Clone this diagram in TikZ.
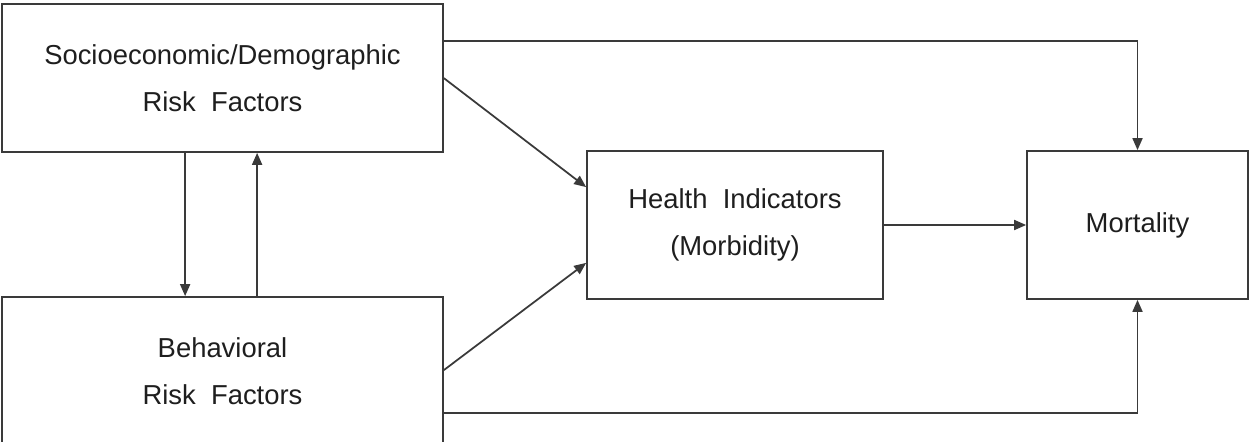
\documentclass[tikz,border=0pt]{standalone}
\usepackage{fontspec}
\setmainfont{Liberation Sans}
\usetikzlibrary{arrows.meta}

\definecolor{linegray}{HTML}{3A3A3A}
\definecolor{textgray}{HTML}{1E1E1E}

\tikzset{
  factorbox/.style={draw=linegray, line width=1pt, inner sep=0pt,
    minimum height=2.96cm, align=center, text=textgray,
    font=\fontsize{15.6}{26.7}\selectfont},
  link/.style={draw=linegray, line width=1pt,
    -{Triangle[length=0.24cm,width=0.2cm]}}
}

\begin{document}
\begin{tikzpicture}[x=0.02cm,y=-0.02cm]
  \useasboundingbox (0,0) rectangle (1250,442);

  \node[factorbox, minimum width=8.82cm] (socio) at (222.5,78)
    {Socioeconomic/Demographic\\Risk\ \ Factors};
  \node[factorbox, minimum width=8.82cm] (behav) at (222.5,371)
    {Behavioral\\Risk\ \ Factors};
  \node[factorbox, minimum width=5.92cm] (health) at (735,225)
    {Health\ \ Indicators\\(Morbidity)};
  \node[factorbox, minimum width=4.42cm] (mortality) at (1137.5,225)
    {Mortality};

  \draw[link] ([yshift=-0.76cm]socio.north east) -| (mortality.north);
  \draw[link] ([yshift=0.66cm]behav.south east) -| (mortality.south);
  \draw[link] ([yshift=-1.5cm]socio.north east) -- ([yshift=-0.74cm]health.north west);
  \draw[link] ([yshift=-1.48cm]behav.north east) -- ([yshift=0.74cm]health.south west);
  \draw[link] (health.east) -- (mortality.west);
  \draw[link] ([xshift=3.68cm]socio.south west) -- ([xshift=3.68cm]behav.north west);
  \draw[link] ([xshift=5.12cm]behav.north west) -- ([xshift=5.12cm]socio.south west);
\end{tikzpicture}
\end{document}
